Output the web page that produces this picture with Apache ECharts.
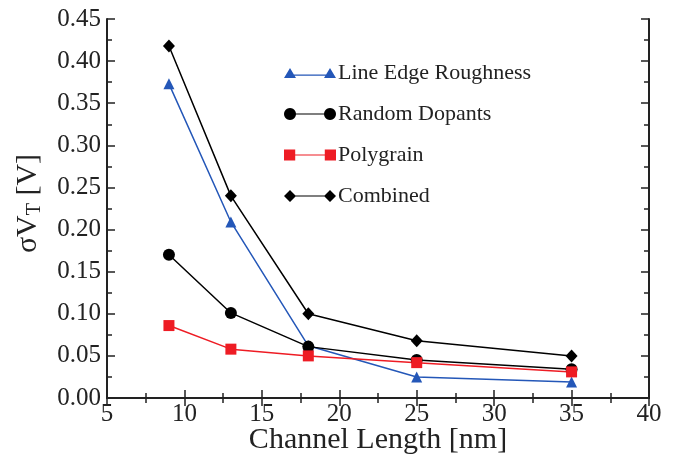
<!DOCTYPE html>
<html>
<head>
<meta charset="utf-8">
<script src="https://cdn.jsdelivr.net/npm/echarts@6/dist/echarts.min.js"></script>
<style>
  html, body { margin: 0; padding: 0; background: #fff; }
  #chart { width: 675px; height: 455px; }
</style>
</head>
<body>
<div id="chart"></div>
<script>
// channel length (nm)
const channelLength = [9, 13, 18, 25, 35];
// sigma V_T (V) for each source
const lineEdgeRoughness = [0.373, 0.209, 0.062, 0.025, 0.019];
const randomDopants = [0.170, 0.101, 0.061, 0.045, 0.034];
const polygrain = [0.086, 0.058, 0.050, 0.042, 0.031];
const combined = [0.418, 0.240, 0.100, 0.068, 0.050];

const yTicks = ['0.00', '0.05', '0.10', '0.15', '0.20', '0.25', '0.30', '0.35', '0.40', '0.45'];

const font = 'Liberation Serif';
const ink = '#222';

// legend icons: a line with a marker at each end (52 x 12 box)
function roundPath(cx) {
  let d = '';
  for (let i = 0; i < 24; i += 1) {
    const a = (i / 24) * Math.PI * 2;
    d += `${i === 0 ? 'M' : 'L'}${(cx + 6 * Math.cos(a)).toFixed(2)} ${(6 + 6 * Math.sin(a)).toFixed(2)}`;
  }
  return `${d}Z`;
}
const icons = {
  tri: 'path://M0 11L6 1L12 11ZM40 11L46 1L52 11ZM6 7.6L46 7.6L46 8.8L6 8.8Z',
  circle: `path://${roundPath(6)}${roundPath(46)}M6 5.4L46 5.4L46 6.6L6 6.6Z`,
  square: 'path://M0.5 0.5L11.5 0.5L11.5 11.5L0.5 11.5ZM40.5 0.5L51.5 0.5L51.5 11.5L40.5 11.5ZM6 5.4L46 5.4L46 6.6L6 6.6Z',
  diamond: 'path://M0 6L6 0L12 6L6 12ZM40 6L46 0L52 6L46 12ZM6 5.4L46 5.4L46 6.6L6 6.6Z',
};

function pairs(ys) {
  return channelLength.map((x, i) => [x, ys[i]]);
}

const chart = echarts.init(document.getElementById('chart'));

const axisBase = {
  axisLine: { show: true, lineStyle: { color: ink, width: 2 } },
  axisTick: { show: true, inside: true, length: 8, lineStyle: { color: ink, width: 1.5 } },
  minorTick: { show: true, splitNumber: 2, length: 5, lineStyle: { color: ink, width: 1.5 } },
  splitLine: { show: false },
};

const option = {
  animation: false,
  grid: { left: 107, right: 26, top: 19, bottom: 57, outerBoundsMode: 'none' },
  legend: {
    orient: 'vertical',
    left: 279,
    top: 57,
    itemWidth: 52,
    itemHeight: 12,
    itemGap: 19,
    symbolKeepAspect: true,
    textStyle: { fontFamily: font, fontSize: 22, color: ink, padding: [0, 0, 0, -3] },
    data: [
      { name: 'Line Edge Roughness', icon: icons.tri },
      { name: 'Random Dopants', icon: icons.circle },
      { name: 'Polygrain', icon: icons.square },
      { name: 'Combined', icon: icons.diamond },
    ],
  },
  xAxis: [{
    ...axisBase,
    type: 'value',
    min: 5,
    max: 40,
    interval: 5,
    name: 'Channel Length [nm]',
    nameLocation: 'middle',
    nameMoveOverlap: false,
    nameGap: 27,
    nameTextStyle: { fontFamily: font, fontSize: 30, color: ink },
    axisLabel: { fontFamily: font, fontSize: 25, color: ink, margin: 4 },
  }, {
    ...axisBase,
    type: 'value',
    position: 'top',
    min: 5,
    max: 40,
    interval: 5,
    axisLabel: { show: false },
  }],
  yAxis: [{
    ...axisBase,
    type: 'value',
    min: 0,
    max: 0.45,
    interval: 0.05,
    name: '{a|σV}{b|T}{a| [V]}',
    nameLocation: 'middle',
    nameMoveOverlap: false,
    nameRotate: 90,
    nameGap: 62,
    nameTextStyle: {
      fontFamily: font,
      padding: [0, 0, 0, 10],
      rich: {
        a: { fontFamily: font, fontSize: 30, color: ink },
        b: { fontFamily: font, fontSize: 20, color: ink, padding: [14, 0, 0, 0] },
      },
    },
    axisLabel: {
      fontFamily: font,
      fontSize: 25,
      color: ink,
      margin: 6,
      formatter: (v) => yTicks[Math.round(v / 0.05)],
    },
  }, {
    ...axisBase,
    type: 'value',
    position: 'right',
    min: 0,
    max: 0.45,
    interval: 0.05,
    axisLabel: { show: false },
  }],
  series: [{
    name: 'Line Edge Roughness',
    type: 'line',
    data: pairs(lineEdgeRoughness),
    symbol: 'triangle',
    symbolSize: 11,
    color: '#2457b8',
    lineStyle: { width: 1.5 },
  }, {
    name: 'Random Dopants',
    type: 'line',
    data: pairs(randomDopants),
    symbol: 'circle',
    symbolSize: 12,
    color: '#000',
    lineStyle: { width: 1.5 },
  }, {
    name: 'Polygrain',
    type: 'line',
    data: pairs(polygrain),
    symbol: 'rect',
    symbolSize: 11,
    color: '#ee1c24',
    lineStyle: { width: 1.5 },
  }, {
    name: 'Combined',
    type: 'line',
    data: pairs(combined),
    symbol: 'diamond',
    symbolSize: [12, 13],
    color: '#000',
    lineStyle: { width: 1.5 },
  }],
};

chart.setOption(option);
</script>
</body>
</html>
